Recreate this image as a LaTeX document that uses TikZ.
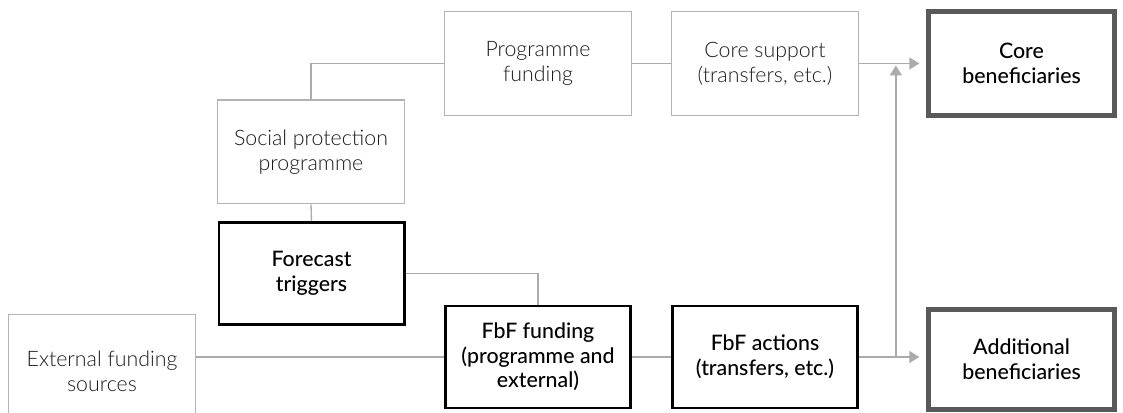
\documentclass[tikz,border=0pt]{standalone}
\usepackage{fontspec}
\setmainfont{Lato}
\newfontfamily\lightfont{Lato Light}
\newfontfamily\semifont{Lato Medium}
\usetikzlibrary{arrows.meta}
\usetikzlibrary{calc}

\definecolor{linegray}{HTML}{ABABAB}
\definecolor{boxgray}{HTML}{B3B3B3}
\definecolor{txtgray}{HTML}{1A1A1A}
\definecolor{benefgray}{HTML}{595959}

\tikzset{
  lightbox/.style={draw=boxgray, line width=1pt, text=txtgray, align=center,
    font=\lightfont\fontsize{16}{18.5}\selectfont, inner sep=0pt,
    minimum width=140pt, minimum height=77.75pt},
  boldbox/.style={draw=black, line width=2.2pt, align=center,
    font=\semifont\fontsize{16}{18.5}\selectfont, inner sep=0pt,
    minimum width=138.8pt, minimum height=76.5pt},
  benefbox/.style={draw=benefgray, line width=3.75pt, align=center,
    font=\semifont\fontsize{16}{18.5}\selectfont, inner sep=0pt,
    minimum width=139.5pt},
  link/.style={draw=linegray, line width=1pt},
  flow/.style={link, -{Triangle[length=7.5pt,width=9pt]}, shorten >=5pt}
}

\begin{document}
\begin{tikzpicture}[x=0.75pt, y=-0.75pt]
    \useasboundingbox (0,0) rectangle (1123,413);

    % top row
    \node[lightbox] (pf) at (538,63.5) {Programme\\funding};
    \node[lightbox] (cs) at (765,63.5) {Core support\\(transfers, etc.)};
    \node[benefbox, minimum height=78pt] (core) at (1021.5,63.5) {Core\\beneficiaries};

    % left column
    \node[lightbox] (sp) at (311,152) {Social protection\\programme};
    \node[boldbox] (ft) at (311.5,273.5) {Forecast\\triggers};

    % bottom row
    \node[lightbox, minimum height=84.5pt] (ext) at (102,371) {External funding\\sources};
    \node[boldbox] (ff) at (538,357) {FbF funding\\(programme and\\external)};
    \node[boldbox] (fa) at (765,357) {FbF actions\\(transfers, etc.)};
    \node[benefbox, minimum height=75pt] (add) at (1021.5,359.5) {Additional\\beneficiaries};

    \coordinate (addin) at (fa.east -| add.west);
    \coordinate (jn) at ($(fa.east)!0.55!(addin)$);

    % connectors
    \draw[link] (sp.north) |- (pf.west);
    \draw[link] (pf.east) -- (cs.west);
    \draw[flow] (cs.east) -- (core.west);
    \draw[link] (sp.south) -- (ft.north);
    \draw[link] (ft.east) -| (ff.north);
    \draw[link] (ext.east |- ff.west) -- (ff.west);
    \draw[link] (ff.east) -- (fa.west);
    \draw[flow] (fa.east) -- (addin);
    \draw[flow, shorten >=1.5pt] (jn) -- (jn |- core.west);
\end{tikzpicture}
\end{document}
